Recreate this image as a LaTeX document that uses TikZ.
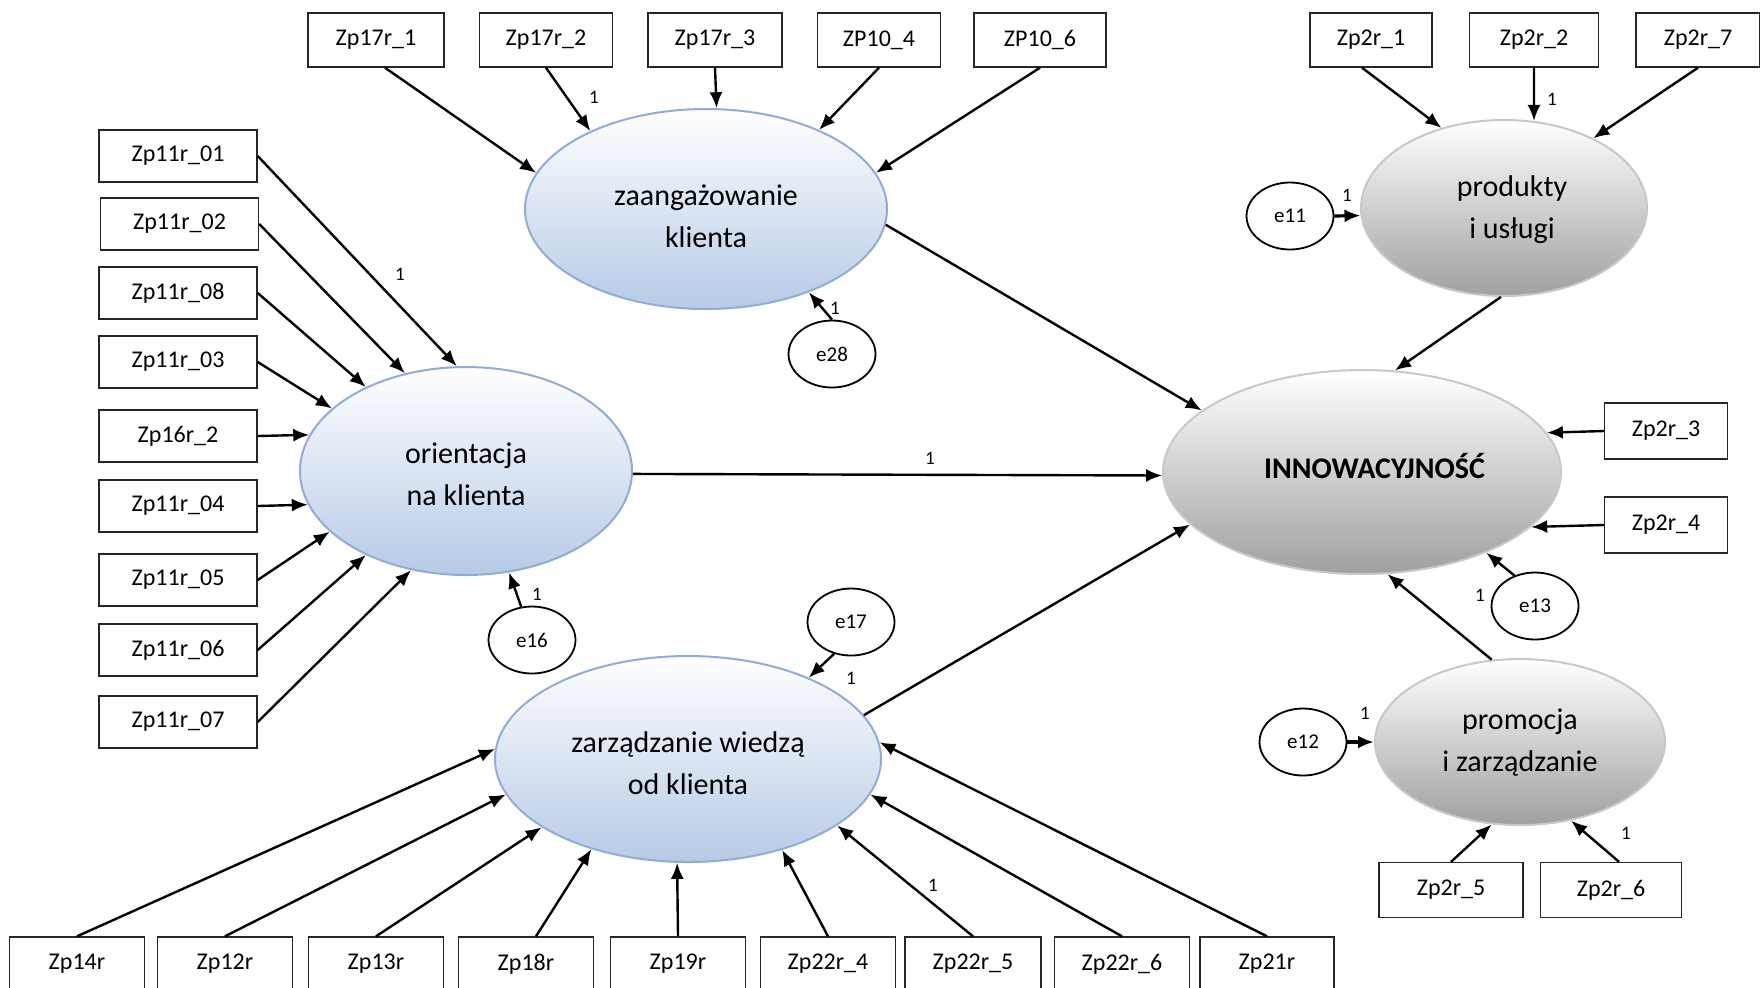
\documentclass[tikz,border=0pt]{standalone}
\usepackage{fontspec}
\setmainfont{Carlito}
\usetikzlibrary{shapes.geometric,arrows.meta}

\definecolor{latblue}{HTML}{B7CAE6}
\definecolor{latblueline}{HTML}{8FADD6}
\definecolor{latgrey}{HTML}{A0A0A0}
\definecolor{latgreyline}{HTML}{C8C8C8}

\begin{document}
\begin{tikzpicture}[x=0.5pt,y=-0.5pt,
    box/.style={draw=black!85,line width=0.7pt,minimum height=27pt,inner sep=0pt,font=\fontsize{12}{14}\selectfont},
    bluelat/.style={ellipse,draw=latblueline,line width=1pt,top color=white,bottom color=latblue,inner sep=0pt,align=center,font=\fontsize{15}{21}\selectfont},
    greylat/.style={ellipse,draw=latgreyline,line width=1pt,top color=white,bottom color=latgrey,inner sep=0pt,align=center,font=\fontsize{15}{21}\selectfont},
    err/.style={ellipse,draw,line width=0.9pt,minimum width=43.5pt,minimum height=33.5pt,inner sep=0pt,font=\fontsize{10.5}{12}\selectfont},
    arr/.style={-{Latex[length=8pt,width=6.5pt]},line width=1.2pt},
    one/.style={inner sep=0pt,font=\fontsize{9.5}{11}\selectfont}]
  \useasboundingbox (0,0) rectangle (1760,987);
  \clip (0,0) rectangle (1760,987);

  % latent variables
  \node[bluelat,minimum width=181pt,minimum height=100pt] (zaang) at (706,209) {\rule{0pt}{17.5pt}zaangażowanie\\klienta};
  \node[bluelat,minimum width=166pt,minimum height=104pt] (orient) at (466,471) {\rule{0pt}{14pt}orientacja\\na klienta};
  \node[bluelat,minimum width=193pt,minimum height=103pt] (zarz) at (688,759) {\rule{0pt}{15pt}zarządzanie wiedzą\\od klienta};
  \node[greylat,minimum width=199pt,minimum height=102pt,text height=7pt,text depth=1pt,font=\fontsize{15}{17}\selectfont\bfseries] (innow) at (1362,472) {\hspace*{12.5pt}INNOWACYJNOŚĆ};
  \node[greylat,minimum width=143pt,minimum height=88pt] (prod) at (1504,208) {\rule{0pt}{12.5pt}\hspace*{8pt}produkty\\\hspace*{8pt}i usługi};
  \node[greylat,minimum width=145pt,minimum height=83pt] (prom) at (1520,742) {\rule{0pt}{10.5pt}promocja\\i zarządzanie};

  % errors
  \node[err] (e28) at (832,354) {e28};
  \node[err] (e16) at (532,640) {e16};
  \node[err] (e17) at (851,622) {e17};
  \node[err] (e11) at (1290,216) {e11};
  \node[err] (e13) at (1535,606) {e13};
  \node[err] (e12) at (1303,742) {e12};

  % top row
  \node[box,minimum width=68pt] (zp17a) at (376,40) {Zp17r\_1};
  \node[box,minimum width=66.5pt] (zp17b) at (546,40) {Zp17r\_2};
  \node[box,minimum width=67pt] (zp17c) at (715,40) {Zp17r\_3};
  \node[box,minimum width=61.5pt] (zp104) at (879,40) {ZP10\_4};
  \node[box,minimum width=66pt] (zp106) at (1040,40) {ZP10\_6};
  \node[box,minimum width=61pt] (zp2a) at (1371,40) {Zp2r\_1};
  \node[box,minimum width=64.5pt] (zp2b) at (1534,40) {Zp2r\_2};
  \node[box,minimum width=62pt] (zp2g) at (1698,40) {Zp2r\_7};

  % left column
  \node[box,minimum width=79pt,minimum height=26pt] (zp11a) at (178,156) {Zp11r\_01};
  \node[box,minimum width=79pt,minimum height=26pt] (zp11b) at (179.5,224) {Zp11r\_02};
  \node[box,minimum width=79pt,minimum height=26pt] (zp11h) at (178,293) {Zp11r\_08};
  \node[box,minimum width=79pt,minimum height=26pt] (zp11c) at (178,362) {Zp11r\_03};
  \node[box,minimum width=79pt,minimum height=26pt] (zp16) at (178,436) {Zp16r\_2};
  \node[box,minimum width=79pt,minimum height=26pt] (zp11d) at (178,506) {Zp11r\_04};
  \node[box,minimum width=79pt,minimum height=26pt] (zp11e) at (178,580) {Zp11r\_05};
  \node[box,minimum width=79pt,minimum height=26pt] (zp11f) at (178,650) {Zp11r\_06};
  \node[box,minimum width=79pt,minimum height=26pt] (zp11g) at (178,722) {Zp11r\_07};

  % bottom row
  \node[box,minimum width=67.5pt] (zp14) at (77,964) {Zp14r};
  \node[box,minimum width=67.5pt] (zp12) at (225,964) {Zp12r};
  \node[box,minimum width=67.5pt] (zp13) at (376,964) {Zp13r};
  \node[box,minimum width=67.5pt] (zp18) at (526,964) {Zp18r};
  \node[box,minimum width=67.5pt] (zp19) at (678,964) {Zp19r};
  \node[box,minimum width=67.5pt] (zp22d) at (828,964) {Zp22r\_4};
  \node[box,minimum width=68pt] (zp22e) at (973,964) {Zp22r\_5};
  \node[box,minimum width=67.5pt] (zp22f) at (1122,964) {Zp22r\_6};
  \node[box,minimum width=67pt] (zp21) at (1267,964) {Zp21r};

  % right side
  \node[box,minimum width=61.5pt,minimum height=28pt] (zp2c) at (1666,431) {Zp2r\_3};
  \node[box,minimum width=61.5pt,minimum height=28pt] (zp2d) at (1666,525) {Zp2r\_4};
  \node[box,minimum width=72pt,minimum height=27.5pt] (zp2e) at (1451,890) {Zp2r\_5};
  \node[box,minimum width=70.5pt,minimum height=27.5pt] (zp2f) at (1611,890) {Zp2r\_6};

  % indicators
  \draw[arr] ([xshift=4.5pt]zp17a.south) -- (zaang.168);
  \draw[arr] (zp17b.south) -- (zaang.146);
  \draw[arr] (zp17c.south) -- (zaang.84);
  \draw[arr] (zp104.south) -- (zaang.35);
  \draw[arr] (zp106.south) -- (zaang.12);

  \draw[arr] (zp11a.east) -- (orient.95);
  \draw[arr] (zp11b.east) -- (orient.122);
  \draw[arr] (zp11h.east) -- (orient.140);
  \draw[arr] (zp11c.east) -- (orient.155);
  \draw[arr] (zp16.east) -- (orient.167);
  \draw[arr] (zp11d.east) -- (orient.192);
  \draw[arr] (zp11e.east) -- (orient.204);
  \draw[arr] (zp11f.east) -- (orient.220);
  \draw[arr] (zp11g.east) -- (orient.241);

  \draw[arr] (zp14.north) -- (zarz.177);
  \draw[arr] (zp12.north) -- (zarz.191);
  \draw[arr] (zp13.north) -- (zarz.205);
  \draw[arr] ([xshift=5pt]zp18.north) -- (zarz.223);
  \draw[arr] (zp19.north) -- (zarz.264);
  \draw[arr] (zp22d.north) -- (zarz.316);
  \draw[arr] (zp22e.north) -- (zarz.336);
  \draw[arr] (zp22f.north) -- (zarz.349);
  \draw[arr] (zp21.north) -- (zarz.5);

  \draw[arr] ([xshift=-4.5pt]zp2a.south) -- (prod.128);
  \draw[arr] (zp2b.south) -- (prod.71);
  \draw[arr] (zp2g.south) -- (prod.38);
  \draw[arr] (zp2c.west) -- (innow.12.5);
  \draw[arr] (zp2d.west) -- (innow.342);
  \draw[arr] (zp2e.north) -- (prom.251);
  \draw[arr] ([xshift=4pt]zp2f.north) -- (prom.303);

  % errors
  \draw[arr] (e28.north) -- (zaang.-39);
  \draw[arr] (e16.108) -- (orient.293);
  \draw[arr] (e17.242) -- (zarz.34);
  \draw[arr,line width=1.6pt] (e11.east) -- (prod.183);
  \draw[arr] (e13.124) -- (innow.327);
  \draw[arr,line width=1.6pt] (e12.east) -- (prom.180);

  % paths
  \draw[arr] (zaang.-5) -- (innow.159);
  \draw[arr] (orient.-1.7) -- (innow.181.15);
  \draw[arr] (zarz.14) -- (innow.197);
  \draw[arr] (prod.268) -- (innow.72);
  \draw[arr] (prom.109) -- (innow.284);

  % fixed loadings
  \node[one] (w1) at (594,97) {1};
  \node[one] (w2) at (400,274) {1};
  \node[one] (w3) at (835,308) {1};
  \node[one] (w4) at (537,594) {1};
  \node[one] (w5) at (851,678) {1};
  \node[one] (w6) at (930,458) {1};
  \node[one] (w7) at (933,885) {1};
  \node[one] (w8) at (1552,99) {1};
  \node[one] (w9) at (1347,195) {1};
  \node[one] (w10) at (1480,595) {1};
  \node[one] (w11) at (1365,713) {1};
  \node[one] (w12) at (1626,833) {1};
\end{tikzpicture}
\end{document}
